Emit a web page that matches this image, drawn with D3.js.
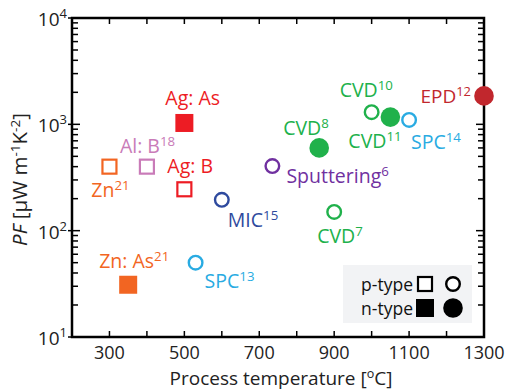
<!DOCTYPE html>
<html>
<head>
<meta charset="utf-8">
<script src="https://cdn.jsdelivr.net/npm/d3@7"></script>
<style>
  body { margin: 0; background: #fff; }
  text { font-family: "Open Sans", Lato, sans-serif; }
</style>
</head>
<body>
<div id="chart"></div>
<script>
// data
var names = ["Ag: As", "Zn", "Al: B", "Ag: B", "MIC", "SPC", "Zn: As", "Sputtering",
  "CVD", "CVD", "CVD", "CVD", "SPC", "EPD"];
var refs = ["", "21", "18", "", "15", "13", "21", "6", "8", "7", "10", "11", "14", "12"];
var temps = [500, 300, 400, 500, 600, 530, 350, 735, 860, 900, 1000, 1050, 1100, 1300];
var pfs = [1030, 400, 400, 245, 195, 50, 31, 405, 600, 150, 1300, 1170, 1100, 1850];
var types = ["n", "p", "p", "p", "p", "p", "n", "p", "n", "p", "p", "n", "p", "n"];
var shapes = ["sq", "sq", "sq", "sq", "ci", "ci", "sq", "ci", "ci", "ci", "ci", "ci", "ci", "ci"];
var colors = ["#ED1C24", "#F26522", "#C97BB8", "#ED1C24", "#2E4A9E", "#29ABE2", "#F26522",
  "#7030A0", "#20B14B", "#20B14B", "#20B14B", "#20B14B", "#29ABE2", "#C1272D"];

var xTickLabels = [300, 500, 700, 900, 1100, 1300];
var yTickLabels = [10, 100, 1000, 10000];

// label placement relative to the marker (anchor, dx, dy, font size)
var labelPos = [
  ["start", -19, -18, 19.5], ["middle", 1, 30, 19.5], ["start", -27, -14, 19.5], ["start", -17, -16, 19.5],
  ["start", 6, 27, 19.5], ["start", 9, 25, 19.5], ["start", -29, -17, 19.5], ["start", 14, 17, 19.5],
  ["start", -36, -13, 19.5], ["start", -17, 31, 19.5], ["start", -32, -15, 19.5], ["start", -42, 31, 19.5],
  ["start", 2, 29, 19.5], ["end", -13, 7, 19]
];

var width = 508, height = 390;
var margin = { top: 18, right: 24, bottom: 53, left: 72 };

var svg = d3.select("#chart").append("svg")
  .attr("width", width)
  .attr("height", height);

var x = d3.scaleLinear().domain([200, 1300]).range([margin.left, width - margin.right]);
var y = d3.scaleLog().domain([10, 10000]).range([height - margin.bottom, margin.top]);

var x0 = x.range()[0], x1 = x.range()[1], y0 = y.range()[0], y1 = y.range()[1];

// ticks
var gAx = svg.append("g").attr("stroke", "#000").attr("stroke-width", 1.5);
d3.range(200, 1301, 100).forEach(function (v) {
  gAx.append("line").attr("x1", x(v)).attr("x2", x(v)).attr("y1", y0).attr("y2", y0 - 6);
  gAx.append("line").attr("x1", x(v)).attr("x2", x(v)).attr("y1", y1).attr("y2", y1 + 6);
});
var yTicks = y.ticks();
yTicks.forEach(function (v) {
  var major = yTickLabels.indexOf(v) >= 0;
  var len = major ? 8 : 6;
  gAx.append("line").attr("x1", x0 - (major ? 4 : 0)).attr("x2", x0 + len).attr("y1", y(v)).attr("y2", y(v));
  gAx.append("line").attr("x1", x1).attr("x2", x1 - len).attr("y1", y(v)).attr("y2", y(v));
});

// frame
svg.append("rect")
  .attr("x", x0).attr("y", y1)
  .attr("width", x1 - x0).attr("height", y0 - y1)
  .attr("fill", "none").attr("stroke", "#000").attr("stroke-width", 2.5);

// tick labels
svg.append("g").selectAll("text")
  .data(xTickLabels)
  .join("text")
  .attr("x", d => x(d))
  .attr("y", y0 + 22)
  .attr("text-anchor", "middle")
  .attr("font-size", 18)
  .attr("fill", "#222")
  .text(d => d);

var yl = svg.append("g").selectAll("text")
  .data(yTickLabels)
  .join("text")
  .attr("x", x0 - 5)
  .attr("y", d => y(d) + 8)
  .attr("text-anchor", "end")
  .attr("font-size", 19)
  .attr("fill", "#222");
yl.append("tspan").text("10");
yl.append("tspan").attr("font-size", 13).attr("dy", -8).text(d => Math.round(Math.log10(d)));

// axis titles
var xt = svg.append("text")
  .attr("x", (x0 + x1) / 2 + 3)
  .attr("y", 384.5)
  .attr("text-anchor", "middle")
  .attr("font-size", 19)
  .attr("fill", "#222");
xt.append("tspan").text("Process temperature [");
xt.append("tspan").attr("font-size", 12.5).attr("dy", -7).text("o");
xt.append("tspan").attr("dy", 7).text("C]");

var yt = svg.append("text")
  .attr("transform", "translate(27," + ((y0 + y1) / 2 + 2) + ") rotate(-90)")
  .attr("text-anchor", "middle")
  .attr("font-size", 20.5)
  .attr("fill", "#222");
yt.append("tspan").attr("font-style", "italic").text("PF");
yt.append("tspan").text(" [\u03bcW m");
yt.append("tspan").attr("font-size", 13.5).attr("dy", -7).text("-1");
yt.append("tspan").attr("dy", 7).text("K");
yt.append("tspan").attr("font-size", 13.5).attr("dy", -7).text("-2");
yt.append("tspan").attr("dy", 7).text("]");

// markers
var idx = d3.range(names.length);
var marks = svg.append("g");
function drawMark(g, shape, filled, col, cx, cy) {
  if (shape === "sq") {
    var s = filled ? 18 : 14;
    g.append("rect")
      .attr("x", cx - s / 2).attr("y", cy - s / 2)
      .attr("width", s).attr("height", s)
      .attr("fill", filled ? col : "#fff")
      .attr("stroke", filled ? "none" : col)
      .attr("stroke-width", 2.2);
  } else {
    g.append("circle")
      .attr("cx", cx).attr("cy", cy)
      .attr("r", filled ? 9.8 : 6.8)
      .attr("fill", filled ? col : "#fff")
      .attr("stroke", filled ? "none" : col)
      .attr("stroke-width", 2.4);
  }
}
idx.forEach(function (i) {
  drawMark(marks, shapes[i], types[i] === "n", colors[i], x(temps[i]), y(pfs[i]));
});

// point labels
var lab = svg.append("g").selectAll("text")
  .data(idx)
  .join("text")
  .attr("x", i => x(temps[i]) + labelPos[i][1])
  .attr("y", i => y(pfs[i]) + labelPos[i][2])
  .attr("text-anchor", i => labelPos[i][0])
  .attr("font-size", i => labelPos[i][3])
  .attr("fill", i => colors[i]);
lab.append("tspan").text(i => names[i]);
lab.append("tspan").attr("font-size", i => labelPos[i][3] * 0.68).attr("dy", -7).text(i => refs[i]);

// legend
var leg = svg.append("g");
leg.append("rect")
  .attr("x", 343).attr("y", 265).attr("width", 129).attr("height", 58)
  .attr("fill", "#F2F3F5");
var legRows = [["p-type", false], ["n-type", true]];
legRows.forEach(function (r, k) {
  var cy = 284 + k * 24;
  leg.append("text")
    .attr("x", 413).attr("y", cy + 6.5)
    .attr("text-anchor", "end")
    .attr("font-size", 17.5)
    .attr("fill", "#111")
    .text(r[0]);
  drawMark(leg, "sq", r[1], "#000", 425, cy);
  drawMark(leg, "ci", r[1], "#000", 453, cy);
});
</script>
</body>
</html>
